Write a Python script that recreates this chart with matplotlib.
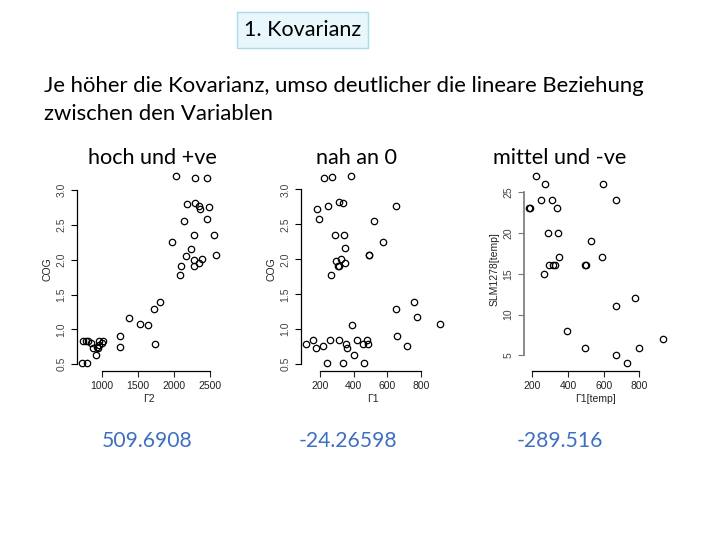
import matplotlib
matplotlib.use("Agg")
import matplotlib.pyplot as plt
from matplotlib.patches import FancyBboxPatch

# ---------------- data ----------------
# plot 1: Γ2 vs COG (hoch und +ve)
p1_x = [2032, 2289, 2450, 2174, 2289, 2339, 2358, 2477, 2133, 2450, 2271, 2550,
        1972, 2229, 2170, 2573, 2271, 2390, 2349, 2271, 2096, 2087, 1812, 1716,
        1372, 1532, 1633, 1734, 1252, 1252, 748, 780, 817, 853, 876, 922, 954,
        963, 968, 1000, 1023, 734, 798, 940]
p1_y = [3.21, 3.18, 3.17, 2.80, 2.82, 2.77, 2.73, 2.76, 2.55, 2.58, 2.35, 2.35,
        2.25, 2.16, 2.06, 2.07, 1.99, 2.01, 1.95, 1.91, 1.91, 1.78, 1.39, 1.29,
        1.17, 1.08, 1.06, 0.79, 0.90, 0.75, 0.84, 0.84, 0.84, 0.80, 0.73, 0.63,
        0.73, 0.77, 0.84, 0.80, 0.84, 0.51, 0.51, 0.74]

# plot 2: Γ1 vs COG (nah an 0)
p2_x = [220, 268, 383, 182, 248, 309, 333, 649, 190, 518, 285, 339, 576, 345,
        488, 490, 295, 321, 347, 305, 311, 262, 756, 653, 778, 911, 387, 655,
        717, 117, 154, 176, 216, 256, 313, 355, 359, 417, 452, 476, 486, 403,
        238, 337, 458]
p2_y = [3.17, 3.18, 3.20, 2.72, 2.76, 2.82, 2.80, 2.77, 2.58, 2.55, 2.35, 2.35,
        2.25, 2.16, 2.06, 2.06, 1.98, 2.01, 1.95, 1.91, 1.90, 1.77, 1.39, 1.29,
        1.17, 1.08, 1.06, 0.90, 0.76, 0.79, 0.84, 0.73, 0.76, 0.84, 0.84, 0.79,
        0.73, 0.84, 0.79, 0.84, 0.79, 0.63, 0.51, 0.51, 0.51]

# plot 3: Γ1[temp] vs SLM1278[temp] (mittel und -ve)
p3_x = [221, 271, 599, 247, 309, 669, 183, 189, 337, 288, 343, 528, 588, 350,
        296, 313, 328, 496, 502, 266, 774, 669, 395, 493, 669, 796, 731, 931]
p3_y = [27.06, 26.03, 26.03, 24.05, 24.05, 24.05, 23.02, 23.02, 23.02, 20.02,
        20.02, 18.99, 17.02, 17.02, 16.03, 16.03, 16.03, 16.03, 16.03, 15.0,
        12.04, 11.01, 8.0, 5.95, 5.0, 5.95, 4.0, 6.98]

headers = ["hoch und +ve", "nah an 0", "mittel und -ve"]
cov_values = ["509.6908", "-24.26598", "-289.516"]
x_labels = ["Γ2", "Γ1", "Γ1[temp]"]
y_labels = ["COG", "COG", "SLM1278[temp]"]
x_ticks = [[1000, 1500, 2000, 2500], [200, 400, 600, 800], [200, 400, 600, 800]]
y_ticks = [[0.5, 1.0, 1.5, 2.0, 2.5, 3.0], [0.5, 1.0, 1.5, 2.0, 2.5, 3.0],
           [5, 10, 15, 20, 25]]
y_ticklabels = [["0.5", "1.0", "1.5", "2.0", "2.5", "3.0"],
                ["0.5", "1.0", "1.5", "2.0", "2.5", "3.0"],
                ["5", "10", "15", "20", "25"]]

# ---------------- figure ----------------
W, H = 720, 540
fig = plt.figure(figsize=(7.2, 5.4), dpi=100)
fig.patch.set_facecolor("white")

def fx(px):
    return px / W

def fy(py):
    return 1 - py / H

TXT_FONT = ["Lato", "DejaVu Sans"]
R_FONT = ["Liberation Sans", "DejaVu Sans"]

# title box
box = FancyBboxPatch((fx(237), fy(48)), fx(368) - fx(237), fy(12) - fy(48),
                     boxstyle="square,pad=0", transform=fig.transFigure,
                     facecolor="#e8f7fb", edgecolor="#a9dbe8", linewidth=1.0)
fig.patches.append(box)
fig.text(fx(302.5), fy(30), "1. Kovarianz", ha="center", va="center",
         fontsize=15.5, family=TXT_FONT, color="black")

fig.text(fx(44), fy(86), "Je höher die Kovarianz, umso deutlicher die lineare Beziehung",
         ha="left", va="center", fontsize=15.9, family=TXT_FONT, color="black")
fig.text(fx(44), fy(114), "zwischen den Variablen",
         ha="left", va="center", fontsize=15.9, family=TXT_FONT, color="black")

header_x = [152, 356, 560]
for hx, t in zip(header_x, headers):
    fig.text(fx(hx), fy(158), t, ha="center", va="center", fontsize=15.6,
             family=TXT_FONT, color="black")

num_x = [147, 348, 560]
for nx, t in zip(num_x, cov_values):
    fig.text(fx(nx), fy(441), t, ha="center", va="center", fontsize=15.2,
             family=TXT_FONT, color="#3d6fc2")

ax_left = [77, 301, 524]
ax_w = 144
ax_top, ax_bot = 168, 371
datasets = [(p1_x, p1_y), (p2_x, p2_y), (p3_x, p3_y)]

for i in range(3):
    ax = fig.add_axes([fx(ax_left[i]), fy(ax_bot), ax_w / W, (ax_bot - ax_top) / H])
    xs, ys = datasets[i]
    ax.plot(xs, ys, linestyle="none", marker="o", markersize=4.6,
            markerfacecolor="none", markeredgecolor="black", markeredgewidth=0.9)
    ax.margins(0.04)
    ax.set_facecolor("none")
    for s in ["top", "right"]:
        ax.spines[s].set_visible(False)
    ax.spines["left"].set_bounds(y_ticks[i][0], y_ticks[i][-1])
    ax.spines["bottom"].set_bounds(x_ticks[i][0], x_ticks[i][-1])
    lc = "#777777" if i == 2 else "black"
    ax.spines["left"].set_color(lc)
    ax.spines["left"].set_linewidth(1.2 if i == 2 else 0.9)
    ax.spines["bottom"].set_linewidth(0.9)
    ax.set_xticks(x_ticks[i])
    ax.set_xticklabels([str(v) for v in x_ticks[i]])
    ax.set_yticks(y_ticks[i])
    ax.set_yticklabels(y_ticklabels[i], rotation=90, va="center")
    ax.tick_params(axis="both", direction="out", length=4, width=0.8,
                   labelsize=7.5, pad=3.5, colors="#222222")
    ax.tick_params(axis="y", colors=lc, labelcolor="#444444")
    for lab in ax.get_xticklabels() + ax.get_yticklabels():
        lab.set_family(R_FONT)
    ax.set_xlabel(x_labels[i], fontsize=7.5, family=R_FONT, labelpad=2, color="#222222")
    ax.set_ylabel(y_labels[i], fontsize=7.5, family=R_FONT, labelpad=3, color="#222222")

fig.savefig("out.png", dpi=100, facecolor="white")
